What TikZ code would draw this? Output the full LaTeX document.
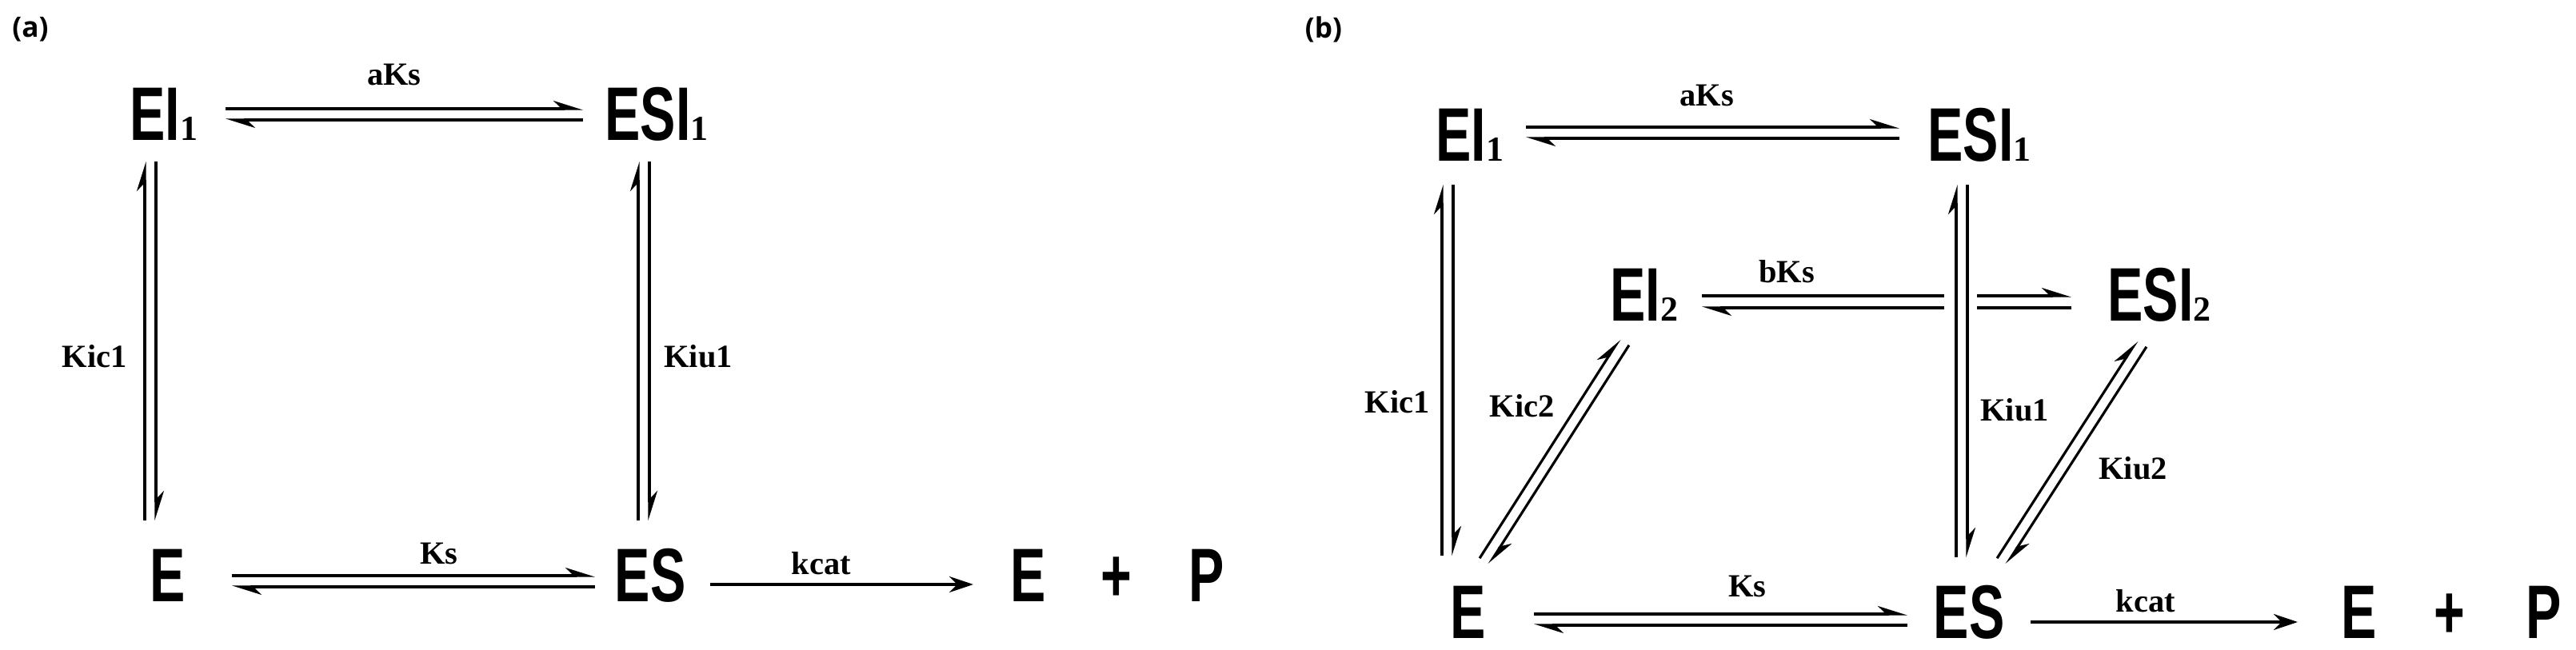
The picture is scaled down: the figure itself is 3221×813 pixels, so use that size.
\documentclass[tikz,border=0pt]{standalone}
\usepackage{fontspec}
\setmainfont{Liberation Serif}
\newfontfamily\spfont[FakeStretch=0.7]{Liberation Sans}
\newfontfamily\lblfont{Open Sans}
\usetikzlibrary{arrows.meta,calc}
\tikzset{
  sp/.style={font=\spfont\bfseries\fontsize{27}{30}\selectfont, inner sep=0pt, anchor=base},
  lbl/.style={font=\bfseries\fontsize{11.5}{13}\selectfont, inner sep=0pt},
  tag/.style={font=\lblfont\bfseries\fontsize{10}{12}\selectfont, inner sep=0pt},
  harp/.style={line width=0.9pt, -{Stealth[harpoon,length=0.32cm,width=0.2cm]}},
  plain/.style={line width=0.9pt},
  one/.style={line width=1.1pt, -{Stealth[length=0.3cm,width=0.2cm]}}
}
\newcommand{\subd}[1]{\raisebox{0pt}{\fontspec{Liberation Serif}\fontsize{12.5}{13}\selectfont #1}}
\newcommand{\eqp}[2]{%
  \draw[harp] ($(#1)!0.07cm!90:(#2)$) -- ($(#2)!0.07cm!-90:(#1)$);
  \draw[harp] ($(#2)!0.07cm!90:(#1)$) -- ($(#1)!0.07cm!-90:(#2)$);}
\begin{document}
\begin{tikzpicture}[x=0.01cm,y=-0.01cm]
\useasboundingbox (0,0) rectangle (3221,813);
% ---- panel (a)
\node[tag] (ta) at (38,37) {(a)};
\node[sp] (aEI) at (205,176) {EI\subd{1}};
\node[sp] (aESI) at (821,176) {ESI\subd{1}};
\node[sp] (aE) at (210,752) {E};
\node[sp] (aES) at (813,752) {ES};
\node[sp] (aE2) at (1286,752) {E};
\node[sp] (aplus) at (1396,752) {+};
\node[sp] (aP) at (1509,752) {P};
\coordinate (a1) at (282,143); \coordinate (a2) at (729,143);
\coordinate (a3) at (188,651); \coordinate (a4) at (188,202);
\coordinate (a5) at (805,651); \coordinate (a6) at (805,202);
\coordinate (a7) at (290,727); \coordinate (a8) at (744,727);
\coordinate (a9) at (888,731); \coordinate (a10) at (1217,731);
\eqp{a1}{a2} \eqp{a3}{a4} \eqp{a5}{a6} \eqp{a7}{a8}
\draw[one] (a9) -- (a10);
\node[lbl] (laks) at (493,93) {aKs};
\node[lbl] (lkic) at (118,446) {Kic1};
\node[lbl] (lkiu) at (873,446) {Kiu1};
\node[lbl] (lks) at (549,692) {Ks};
\node[lbl] (lkcat) at (1027,705) {kcat};
% ---- panel (b)
\node[tag] (tb) at (1655,37) {(b)};
\node[sp] (bEI) at (1838,202) {EI\subd{1}};
\node[sp] (bESI) at (2475,202) {ESI\subd{1}};
\node[sp] (bEI2) at (2056,402) {EI\subd{2}};
\node[sp] (bESI2) at (2700,402) {ESI\subd{2}};
\node[sp] (bE) at (1836,798) {E};
\node[sp] (bES) at (2462,798) {ES};
\node[sp] (bE2) at (2950,798) {E};
\node[sp] (bplus) at (3063,798) {+};
\node[sp] (bP) at (3181,798) {P};
\coordinate (b1) at (1908,166); \coordinate (b2) at (2375,166);
\coordinate (b3) at (1810,695); \coordinate (b4) at (1810,231);
\coordinate (b5) at (2453,697); \coordinate (b6) at (2453,231);
\coordinate (b7) at (1918,775); \coordinate (b8) at (2385,775);
\coordinate (b9) at (2539,778); \coordinate (b10) at (2873,778);
\coordinate (b11) at (1856,702); \coordinate (b12) at (2031,428);
\coordinate (b13) at (2503,702); \coordinate (b14) at (2678,430);
\coordinate (m1) at (2128,370); \coordinate (m2) at (2431,370);
\coordinate (m3) at (2128,385); \coordinate (m4) at (2431,385);
\coordinate (m5) at (2472,370); \coordinate (m6) at (2590,370);
\coordinate (m7) at (2472,385); \coordinate (m8) at (2590,385);
\eqp{b1}{b2} \eqp{b3}{b4} \eqp{b5}{b6} \eqp{b7}{b8}
\eqp{b11}{b12} \eqp{b13}{b14}
\draw[plain] (m1) -- (m2);
\draw[harp] (m4) -- (m3);
\draw[harp] (m5) -- (m6);
\draw[plain] (m7) -- (m8);
\draw[one] (b9) -- (b10);
\node[lbl] (blaks) at (2134,119) {aKs};
\node[lbl] (blbks) at (2234,340) {bKs};
\node[lbl] (blkic) at (1747,503) {Kic1};
\node[lbl] (blkic2) at (1903,508) {Kic2};
\node[lbl] (blkiu) at (2519,513) {Kiu1};
\node[lbl] (blkiu2) at (2667,586) {Kiu2};
\node[lbl] (blks) at (2185,733) {Ks};
\node[lbl] (blkcat) at (2683,752) {kcat};
\end{tikzpicture}
\end{document}
